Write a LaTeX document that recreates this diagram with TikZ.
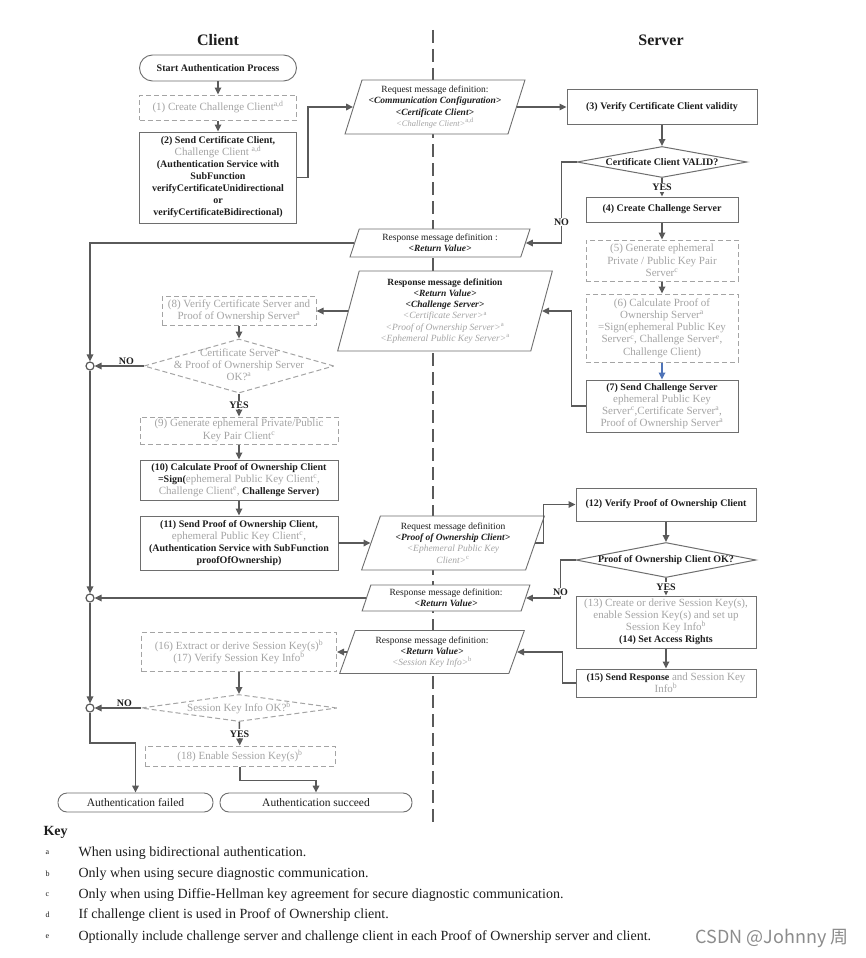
\documentclass[tikz,border=0pt]{standalone}
\usepackage{fontspec}
\setmainfont{Liberation Serif}
\newfontfamily\markfont{Noto Sans CJK SC}
\usetikzlibrary{shapes.geometric,arrows.meta}

\definecolor{flowgray}{HTML}{5A5A5A}
\definecolor{optgray}{HTML}{A4A4A4}
\definecolor{boxgray}{HTML}{6E6E6E}
\definecolor{textdark}{HTML}{1E1E1E}
\definecolor{sendblue}{HTML}{4F74B8}

\newcommand{\sprs}[1]{\textsuperscript{#1}}
\newcommand{\optpart}[1]{\textcolor{optgray}{\fontsize{11}{12}\selectfont\mdseries #1}}
\newcommand{\optit}[1]{\textcolor{optgray}{\mdseries\itshape #1}}
\newcommand{\optsup}[1]{\textcolor{optgray}{\mdseries\upshape\textsuperscript{#1}}}
\newcommand{\fieldname}[1]{\textbf{\textit{#1}}}

\tikzset{
  stepbox/.style={rectangle, draw=boxgray, line width=1pt, fill=white, align=center,
    inner sep=1pt, text=textdark, font=\fontsize{10}{12}\selectfont\bfseries},
  optbox/.style={rectangle, draw=optgray, line width=1pt, dash pattern=on 5pt off 3pt,
    fill=white, align=center, inner sep=1pt, text=optgray, font=\fontsize{11}{12.3}\selectfont},
  endbox/.style={rectangle, rounded corners=9pt, draw=boxgray, line width=0.9pt, fill=white,
    text=textdark, font=\fontsize{11.5}{13}\selectfont},
  msgbox/.style={trapezium, trapezium left angle=70, trapezium right angle=110,
    trapezium stretches=true, draw=boxgray, line width=0.9pt, fill=white, align=center,
    inner sep=0pt, text=textdark, font=\fontsize{9.5}{11.3}\selectfont},
  checkbox/.style={diamond, draw=boxgray, line width=1pt, fill=white, inner sep=0pt,
    text=textdark, font=\fontsize{10}{12}\selectfont\bfseries},
  optcheck/.style={diamond, draw=optgray, line width=1pt, dash pattern=on 5pt off 3pt,
    fill=white, inner sep=0pt, text=optgray, font=\fontsize{11}{12.3}\selectfont},
  junction/.style={circle, draw=flowgray, line width=1.2pt, fill=white, minimum size=8pt, inner sep=0pt},
  flow/.style={draw=flowgray, line width=1.6pt, -{Triangle[length=7pt,width=6.5pt]}},
  answer/.style={font=\fontsize{10}{12}\selectfont\bfseries, text=textdark, inner sep=1pt},
  lane/.style={draw=flowgray, line width=1.5pt, dash pattern=on 13pt off 6pt},
  keyletter/.style={font=\fontsize{8}{9}\selectfont, text=textdark, anchor=west},
  keytext/.style={font=\fontsize{14}{16}\selectfont, text=textdark, anchor=west},
}

\begin{document}
\begin{tikzpicture}[x=1pt, y=-1pt]
    \useasboundingbox[fill=white] (0,0) rectangle (865,958);

    % Lanes
    \node[font=\fontsize{16}{18}\selectfont\bfseries, text=textdark] (client) at (218,40) {Client};
    \node[font=\fontsize{16}{18}\selectfont\bfseries, text=textdark] (server) at (661,40) {Server};
    \draw[lane] (433,30) -- (433,822);

    % Client: send certificate
    \node[endbox, font=\fontsize{10}{12}\selectfont\bfseries, minimum width=157pt, minimum height=26pt, rounded corners=13pt] (start) at (218,68) {Start Authentication Process};
    \node[optbox, minimum width=157pt, minimum height=25pt] (s1) at (218,107.5) {(1) Create Challenge Client\sprs{a,d}};
    \node[stepbox, minimum width=157pt, minimum height=91pt] (s2) at (218,177.5) {(2) Send Certificate Client,\\
        \optpart{Challenge Client \sprs{a,d}}\\
        (Authentication Service with\\ SubFunction\\ verifyCertificateUnidirectional\\ or\\ verifyCertificateBidirectional)};

    % Messages
    \node[msgbox, minimum width=180pt, minimum height=54pt] (req1) at (435,107) {Request message definition:\\
        \fieldname{<Communication Configuration>}\\ \fieldname{<Certificate Client>}\\
        \optit{\fontsize{8.5}{10}\selectfont <Challenge Client>}\optsup{a,d}};
    \node[msgbox, minimum width=180pt, minimum height=28pt] (res1) at (440,243) {Response message definition :\\ \fieldname{<Return Value>}};
    \node[msgbox, trapezium left angle=76, trapezium right angle=104, minimum width=215pt, minimum height=80pt] (res2) at (445,311) {\textbf{Response message definition}\\
        \fieldname{<Return Value>}\\ \fieldname{<Challenge Server>}\\
        \optit{<Certificate Server>}\optsup{a}\\ \optit{<Proof of Ownership Server>}\optsup{a}\\
        \optit{<Ephemeral Public Key Server>}\optsup{a}};
    \node[msgbox, minimum width=183pt, minimum height=54pt] (req2) at (453,543) {Request message definition\\
        \fieldname{<Proof of Ownership Client>}\\ \optit{<Ephemeral Public Key}\\ \optit{Client>}\optsup{c}};
    \node[msgbox, minimum width=168pt, minimum height=26pt] (res3) at (446,598) {Response message definition:\\ \fieldname{<Return Value>}};
    \node[msgbox, minimum width=185pt, minimum height=43pt] (res4) at (432,652) {Response message definition:\\
        \fieldname{<Return Value>}\\ \optit{<Session Key Info>}\optsup{b}};

    % Server: verify certificate, send challenge
    \node[stepbox, minimum width=190pt, minimum height=35pt] (s3) at (662,107) {(3) Verify Certificate Client validity};
    \node[checkbox, minimum width=170pt, minimum height=31pt] (valid) at (662,162) {\makebox[0pt]{Certificate Client VALID?}};
    \node[stepbox, minimum width=152pt, minimum height=25pt] (s4) at (662,209.5) {(4) Create Challenge Server};
    \node[optbox, minimum width=152pt, minimum height=41pt] (s5) at (662,260.5) {(5) Generate ephemeral\\ Private / Public Key Pair\\ Server\sprs{c}};
    \node[optbox, minimum width=152pt, minimum height=68pt] (s6) at (662,328) {(6) Calculate Proof of\\ Ownership Server\sprs{a}\\
        =Sign(ephemeral Public Key\\ Server\sprs{c}, Challenge Server\sprs{e},\\ Challenge Client)};
    \node[stepbox, minimum width=152pt, minimum height=52pt] (s7) at (662,406) {(7) Send Challenge Server\\
        \optpart{ephemeral Public Key}\\ \optpart{Server\sprs{c},Certificate Server\sprs{a},}\\ \optpart{Proof of Ownership Server\sprs{a}}};

    % Client: verify server, send proof of ownership
    \node[optbox, minimum width=154pt, minimum height=29pt] (s8) at (239,311) {(8) Verify Certificate Server and\\ Proof of Ownership Server\sprs{a}};
    \node[optcheck, minimum width=190pt, minimum height=54pt] (chk2) at (239,366) {\makebox[0pt]{\begin{tabular}{@{}c@{}}Certificate Server\\ \& Proof of Ownership Server\\ OK?\sprs{a}\end{tabular}}};
    \node[optbox, minimum width=198pt, minimum height=27pt] (s9) at (239,430.5) {(9) Generate ephemeral Private/Public\\ Key Pair Client\sprs{c}};
    \node[stepbox, minimum width=198pt, minimum height=40pt] (s10) at (239,480) {(10) Calculate Proof of Ownership Client\\
        =Sign(\optpart{ephemeral Public Key Client\sprs{c},}\\ \optpart{Challenge Client\sprs{e},} Challenge Server)};
    \node[stepbox, minimum width=198pt, minimum height=54pt] (s11) at (239,543) {(11) Send Proof of Ownership Client,\\
        \optpart{ephemeral Public Key Client\sprs{c},}\\ (Authentication Service with SubFunction\\ proofOfOwnership)};

    % Server: verify proof of ownership
    \node[stepbox, minimum width=180pt, minimum height=33pt] (s12) at (666,504.5) {(12) Verify Proof of Ownership Client};
    \node[checkbox, minimum width=180pt, minimum height=35pt] (chk3) at (666,560) {\makebox[0pt]{Proof of Ownership Client OK?}};
    \node[stepbox, minimum width=180pt, minimum height=52pt] (s13) at (666,622) {\optpart{(13) Create or derive Session Key(s),}\\
        \optpart{enable Session Key(s) and set up}\\ \optpart{Session Key Info\sprs{b}}\\ (14) Set Access Rights};
    \node[stepbox, minimum width=180pt, minimum height=28pt] (s15) at (666,683) {(15) Send Response\optpart{ and Session Key}\\ \optpart{Info\sprs{b}}};

    % Client: session keys
    \node[optbox, minimum width=195pt, minimum height=39pt] (s16) at (239,652) {(16) Extract or derive Session Key(s)\sprs{b}\\ (17) Verify Session Key Info\sprs{b}};
    \node[optcheck, minimum width=196pt, minimum height=27pt] (chk4) at (239,708) {\makebox[0pt]{Session Key Info OK?\sprs{b}}};
    \node[optbox, minimum width=190pt, minimum height=20pt] (s18) at (240,756) {(18) Enable Session Key(s)\sprs{b}};
    \node[endbox, minimum width=155pt, minimum height=19pt] (failed) at (135.5,802.5) {Authentication failed};
    \node[endbox, minimum width=192pt, minimum height=19pt] (succeed) at (316,802.5) {Authentication succeed};

    % Junctions on the failure trunk
    \node[junction] (j1) at (90,366) {};
    \node[junction] (j2) at (90,598) {};
    \node[junction] (j3) at (90,708) {};

    % Connectors
    \draw[flow] (start) -- (s1);
    \draw[flow] (s1) -- (s2);
    \draw[flow] (s2.east) -- ++(11,0) |- (req1);
    \draw[flow] (req1) -- (s3);
    \draw[flow] (s3) -- (valid);
    \draw[flow] (valid) -- node[answer, fill=white] {YES} (s4);
    \draw[flow] (valid.west) -- ++(-15,0) |- node[answer, fill=white, pos=0.37] {NO} (res1);
    \draw[flow] (s4) -- (s5);
    \draw[flow] (s5) -- (s6);
    \draw[flow, draw=sendblue] (s6) -- (s7);
    \draw[flow] (s7.west) -- ++(-14,0) |- (res2);
    \draw[flow] (res2) -- (s8);
    \draw[flow] (s8) -- (chk2);
    \draw[flow] (chk2.west) -- node[answer, above, pos=0.35] {NO} (j1);
    \draw[flow] (chk2) -- node[answer, fill=white] {YES} (s9);
    \draw[flow] (s9) -- (s10);
    \draw[flow] (s10) -- (s11);
    \draw[flow] (s11) -- (req2);
    \draw[flow] (req2.east) -- ++(8,0) |- (s12);
    \draw[flow] (s12) -- (chk3);
    \draw[flow] (chk3) -- node[answer, fill=white] {YES} (s13);
    \draw[flow] (chk3.west) -- ++(-15,0) |- node[answer, fill=white, pos=0.42] {NO} (res3);
    \draw[flow] (s13) -- (s15);
    \draw[flow] (s15.west) -- ++(-13,0) |- (res4);
    \draw[flow] (res4) -- (s16);
    \draw[flow] (s16) -- (chk4);
    \draw[flow] (chk4.west) -- node[answer, above, pos=0.35] {NO} (j3);
    \draw[flow] (chk4) -- node[answer, fill=white] {YES} (s18);
    \draw[flow] (s18.south) -- ++(0,14) -| (succeed);
    \draw[flow] (res1.west) -| (j1);
    \draw[flow] (res3) -- (j2);
    \draw[flow] (j1) -- (j2);
    \draw[flow] (j2) -- (j3);
    \draw[flow] (j3) -- ++(0,35) -| (failed);

    % Key
    \node[font=\fontsize{14}{16}\selectfont\bfseries, text=textdark, anchor=west] (key) at (40,832) {Key};
    \node[keyletter] (key-a) at (42,853) {a};
    \node[keytext] (text-a) at (75,853) {When using bidirectional authentication.};
    \node[keyletter] (key-b) at (42,874) {b};
    \node[keytext] (text-b) at (75,874) {Only when using secure diagnostic communication.};
    \node[keyletter] (key-c) at (42,895) {c};
    \node[keytext] (text-c) at (75,895) {Only when using Diffie-Hellman key agreement for secure diagnostic communication.};
    \node[keyletter] (key-d) at (42,915) {d};
    \node[keytext] (text-d) at (75,915) {If challenge client is used in Proof of Ownership client.};
    \node[keyletter] (key-e) at (42,937) {e};
    \node[keytext] (text-e) at (75,937) {Optionally include challenge server and challenge client in each Proof of Ownership server and client.};

    \node[font=\markfont\fontsize{18}{20}\selectfont, text=black!45, anchor=east] (mark) at (852,938) {CSDN @Johnny 周};
\end{tikzpicture}
\end{document}
